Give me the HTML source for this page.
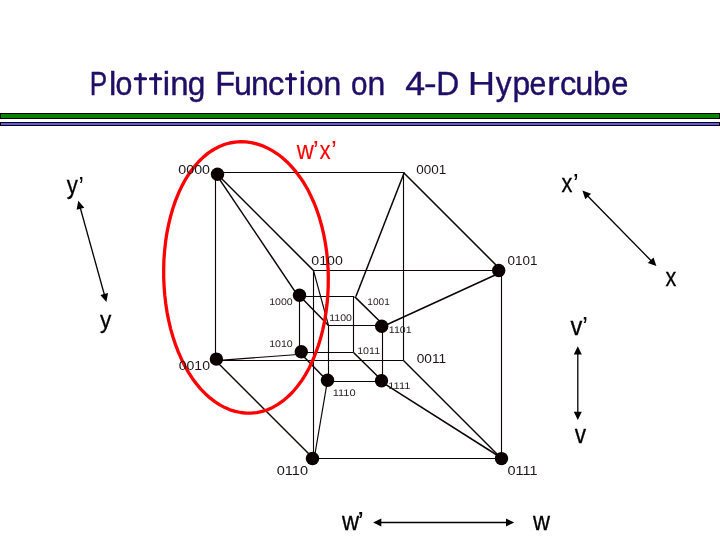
<!DOCTYPE html>
<html>
<head>
<meta charset="utf-8">
<title>Plotting Function on 4-D Hypercube</title>
<style>
html,body{margin:0;padding:0;background:#fff;}
body{width:720px;height:540px;overflow:hidden;position:relative;font-family:"Liberation Sans",sans-serif;}
svg{position:absolute;left:0;top:0;will-change:transform;}
.t{font-family:"Liberation Sans",sans-serif;}
.title{font-size:33px;fill:#200e66;stroke:#200e66;stroke-width:0.4px;}
.tt{fill:none;stroke:#200e66;stroke-width:3.0px;stroke-linecap:round;}
.big{font-size:13.4px;fill:#1c1616;}
.sm{font-size:9.6px;text-rendering:geometricPrecision;fill:#2a2424;}
.ax{font-size:26px;fill:#000;stroke:#000;stroke-width:0.3px;}
.red{font-size:26px;fill:#ff0000;stroke:#ff0000;stroke-width:0.12px;}
.ln line{stroke:#0c0404;stroke-width:1.12;stroke-linecap:butt;}
.dg line{stroke:#0c0404;stroke-width:1.5;stroke-linecap:butt;}
.th line{stroke:#0c0404;stroke-width:1.15;stroke-linecap:butt;}
.dot circle{fill:#0a0000;}
.arr line{stroke:#000;stroke-width:1.3;}
.arr polygon{fill:#000;}
</style>
</head>
<body>
<svg width="720" height="540" viewBox="0 0 720 540">
<!-- title -->
<g class="t title">
<text transform="translate(89.69,95) scale(0.792,1.03)">P</text>
<text transform="translate(108.88,95) scale(1.000,1.03)">l</text>
<text transform="translate(115.47,95) scale(0.919,1.03)">o</text>
<text transform="translate(162.78,95) scale(1.000,1.03)">i</text>
<text transform="translate(170.33,95) scale(1.000,1.03)">n</text>
<text transform="translate(187.72,95) scale(0.957,1.03)">g</text>
<text transform="translate(215.18,95) scale(0.984,1.03)">F</text>
<text transform="translate(234.08,95) scale(0.979,1.03)">u</text>
<text transform="translate(251.10,95) scale(0.971,1.03)">n</text>
<text transform="translate(267.98,95) scale(0.991,1.03)">c</text>
<text transform="translate(298.68,95) scale(1.000,1.03)">i</text>
<text transform="translate(306.56,95) scale(0.932,1.03)">o</text>
<text transform="translate(323.60,95) scale(0.971,1.03)">n</text>
<text transform="translate(350.90,95) scale(0.900,1.03)">o</text>
<text transform="translate(367.50,95) scale(0.971,1.03)">n</text>
<text transform="translate(405.20,95) scale(1.085,1.03)">4</text>
<text transform="translate(423.93,95) scale(1.150,1.03)">-</text>
<text transform="translate(436.23,95) scale(0.964,1.03)">D</text>
<text transform="translate(467.80,95) scale(1.150,1.03)" style="stroke-width:0.15px">H</text>
<text transform="translate(495.64,95) scale(0.959,1.03)">y</text>
<text transform="translate(512.41,95) scale(0.964,1.03)">p</text>
<text transform="translate(529.58,95) scale(0.916,1.03)">e</text>
<text transform="translate(547.12,95) scale(1.150,1.03)">r</text>
<text transform="translate(559.98,95) scale(0.991,1.03)">c</text>
<text transform="translate(575.36,95) scale(0.986,1.03)">u</text>
<text transform="translate(592.91,95) scale(0.964,1.03)">b</text>
<text transform="translate(611.25,95) scale(0.935,1.03)">e</text>
<path class="tt" d="M140.2,74.2 V93.6 M135.2,78.8 H145.6"/>
<path class="tt" d="M155.6,74.2 V93.6 M150.4,78.8 H160.8"/>
<path class="tt" d="M290.5,74.2 V93.6 M286.5,78.8 H295.5"/>
</g>
<!-- title rules -->
<rect x="0" y="113" width="720" height="6" fill="#000"/>
<rect x="1" y="114" width="718" height="4" fill="#068206"/>
<rect x="0" y="122" width="720" height="4" fill="#000"/>
<rect x="1" y="123" width="718" height="2" fill="#6659ea"/>

<!-- outer cube orthogonal lines -->
<g class="ln">
<line x1="215.5" y1="172.5" x2="403.5" y2="172.5"/>
<line x1="215.5" y1="172.5" x2="215.5" y2="360.5"/>
<line x1="403.5" y1="172.5" x2="403.5" y2="360.5"/>
<line x1="215.5" y1="360.5" x2="403.5" y2="360.5"/>
<line x1="313.5" y1="270.5" x2="501.5" y2="270.5"/>
<line x1="313.5" y1="270.5" x2="313.5" y2="458.5"/>
<line x1="501.5" y1="270.5" x2="501.5" y2="458.5"/>
<line x1="313.5" y1="458.5" x2="501.5" y2="458.5"/>
<!-- inner cube -->
<line x1="299.5" y1="296.5" x2="354" y2="296.5"/>
<line x1="299.5" y1="296.5" x2="299.5" y2="352.5"/>
<line x1="353.5" y1="296.5" x2="353.5" y2="352.5"/>
<line x1="299.5" y1="352.5" x2="353.5" y2="352.5"/>
<line x1="328.5" y1="325.5" x2="382" y2="325.5"/>
<line x1="328.5" y1="325.5" x2="328.5" y2="381"/>
<line x1="382.5" y1="325.5" x2="382.5" y2="381"/>
<line x1="328" y1="381.5" x2="382" y2="381.5"/>
</g>
<g class="dg">
<!-- outer diagonals -->
<line x1="215.5" y1="172.5" x2="313.5" y2="270.5"/>
<line x1="403.5" y1="172.5" x2="500.5" y2="269.5"/>
<line x1="215.5" y1="360.5" x2="313.5" y2="458.5"/>
<line x1="403.5" y1="360.5" x2="501.5" y2="458.5"/>
<!-- inner diagonals -->
<line x1="299.3" y1="295.4" x2="328.5" y2="325.5"/>
<line x1="354.6" y1="296.6" x2="381.5" y2="323"/>
<line x1="300.5" y1="353.2" x2="326.5" y2="380"/>
<line x1="353.5" y1="352.5" x2="381.7" y2="380.3"/>
<!-- outer-inner -->
<line x1="215.2" y1="172.8" x2="297.6" y2="295.4"/>
<line x1="404.3" y1="172.5" x2="355.9" y2="296.5"/>
<line x1="499" y1="273.2" x2="381.7" y2="327"/>
<line x1="501.5" y1="458" x2="381.5" y2="381.8"/>
</g>
<g class="th">
<line x1="216" y1="360.6" x2="301.3" y2="354.2"/>
<line x1="313.5" y1="270.5" x2="328.5" y2="325.5"/>
<line x1="314.2" y1="458.3" x2="327.5" y2="380.3"/>
</g>
<g class="dot">
<circle cx="217.5" cy="174.2" r="6.7"/>
<circle cx="498.7" cy="270.5" r="6.7"/>
<circle cx="216.4" cy="359.1" r="6.7"/>
<circle cx="312.5" cy="458.5" r="6.7"/>
<circle cx="501.5" cy="458.6" r="6.7"/>
<circle cx="299.5" cy="295.3" r="6.7"/>
<circle cx="301.3" cy="351.7" r="6.7"/>
<circle cx="381.7" cy="326.3" r="6.7"/>
<circle cx="327.5" cy="380.3" r="6.7"/>
<circle cx="381.5" cy="380.7" r="6.7"/>
</g>
<!-- red ellipse -->
<path d="M328.3,277.4 L328.2,286.3 L327.8,295.1 L327.0,303.9 L325.9,312.6 L324.5,321.2 L322.7,329.7 L320.6,337.9 L318.1,345.9 L315.3,353.6 L312.3,361.0 L308.9,368.1 L305.2,374.7 L301.2,380.9 L296.9,386.6 L292.5,391.8 L287.8,396.4 L282.9,400.5 L277.9,404.0 L272.7,407.0 L267.5,409.3 L262.2,411.0 L256.8,412.2 L251.4,412.7 L246.0,412.7 L240.6,412.1 L235.3,411.0 L230.0,409.4 L224.9,407.2 L219.8,404.5 L214.8,401.2 L210.0,397.5 L205.3,393.3 L200.8,388.7 L196.5,383.5 L192.4,378.0 L188.5,372.0 L184.9,365.6 L181.5,358.8 L178.4,351.7 L175.5,344.3 L173.0,336.6 L170.7,328.7 L168.8,320.5 L167.1,312.2 L165.8,303.6 L164.8,295.0 L164.1,286.2 L163.7,277.4 L163.7,268.5 L163.9,259.6 L164.6,250.8 L165.5,241.9 L166.8,233.2 L168.5,224.6 L170.5,216.2 L172.9,207.9 L175.6,200.0 L178.7,192.4 L182.1,185.2 L185.8,178.4 L189.9,172.1 L194.2,166.4 L198.8,161.1 L203.6,156.5 L208.5,152.5 L213.7,149.1 L218.9,146.3 L224.3,144.1 L229.7,142.6 L235.1,141.7 L240.6,141.3 L246.0,141.5 L251.4,142.2 L256.7,143.5 L262.0,145.2 L267.2,147.5 L272.2,150.2 L277.2,153.4 L282.1,157.1 L286.8,161.3 L291.3,165.9 L295.7,171.0 L299.8,176.5 L303.8,182.4 L307.5,188.7 L310.9,195.5 L314.1,202.6 L317.0,210.0 L319.5,217.7 L321.8,225.8 L323.7,234.0 L325.3,242.4 L326.6,251.0 L327.5,259.7 L328.1,268.5Z" transform="translate(0,0.4)" fill="none" stroke="#ff0000" stroke-width="3.3" stroke-linejoin="round"/>

<!-- vertex labels -->
<g class="t big">
<text x="178.3" y="174.2" textLength="31.75" lengthAdjust="spacingAndGlyphs">0000</text>
<text x="416.3" y="174.2" textLength="30.0" lengthAdjust="spacingAndGlyphs">0001</text>
<text x="311.3" y="265" textLength="31.54" lengthAdjust="spacingAndGlyphs">0100</text>
<text x="507.5" y="265" textLength="30.0" lengthAdjust="spacingAndGlyphs">0101</text>
<text x="178.7" y="370" textLength="31.34" lengthAdjust="spacingAndGlyphs">0010</text>
<text x="416.7" y="362.8" textLength="29.41" lengthAdjust="spacingAndGlyphs">0011</text>
<text x="276.7" y="475" textLength="31.37" lengthAdjust="spacingAndGlyphs">0110</text>
<text x="507.5" y="475" textLength="30.08" lengthAdjust="spacingAndGlyphs">0111</text>
</g>
<g class="t sm">
<text x="269.16" y="304.85" textLength="23.56" lengthAdjust="spacingAndGlyphs">1000</text>
<text x="367.26" y="304.85" textLength="22.53" lengthAdjust="spacingAndGlyphs">1001</text>
<text x="269.16" y="346.6" textLength="23.56" lengthAdjust="spacingAndGlyphs">1010</text>
<text x="357.2" y="353.9" textLength="22.93" lengthAdjust="spacingAndGlyphs">1011</text>
<text x="329.16" y="320.7" textLength="22.77" lengthAdjust="spacingAndGlyphs">1100</text>
<text x="388.8" y="333.1" textLength="22.82" lengthAdjust="spacingAndGlyphs">1101</text>
<text x="332.7" y="395.9" textLength="22.98" lengthAdjust="spacingAndGlyphs">1110</text>
<text x="388.3" y="389.1" textLength="22.1" lengthAdjust="spacingAndGlyphs">1111</text>
</g>

<!-- axis labels -->
<g class="t ax">
<text transform="translate(66.79,194.47) scale(0.855,0.973)">y</text>
<text transform="translate(78.38,195.03) scale(0.926,1.009)" style="stroke:none">’</text>
<text transform="translate(99.89,328.21) scale(0.871,0.946)">y</text>
<text transform="translate(561.58,191.9) scale(0.841,1.004)">x</text>
<text transform="translate(572.86,191.81) scale(1.053,0.974)" style="stroke:none">’</text>
<text transform="translate(665.59,285.9) scale(0.833,0.996)">x</text>
<text transform="translate(570.59,334.9) scale(0.91,1.004)">v</text>
<text transform="translate(581.96,334.81) scale(1.053,0.974)" style="stroke:none">’</text>
<text transform="translate(574.79,442.5) scale(0.871,0.989)">v</text>
<text transform="translate(341.9,530.0) scale(0.911,1.011)">w</text>
<text transform="translate(357.34,530.03) scale(1.179,1.009)" style="stroke:none">’</text>
<text transform="translate(533.1,530.0) scale(0.906,1.011)">w</text>
</g>
<g class="t red">
<text transform="translate(296.7,158.9) scale(0.911,1.011)">w</text>
<text transform="translate(312.86,158.51) scale(1.053,0.974)" style="stroke:none">’</text>
<text transform="translate(319.48,158.9) scale(0.857,1.011)">x</text>
<text transform="translate(331.03,158.51) scale(1.011,0.974)" style="stroke:none">’</text>
</g>

<!-- arrows -->
<g class="arr">
<line x1="80.23" y1="207.74" x2="104.47" y2="294.96"/>
<polygon points="78.30,200.80 76.64,209.77 84.35,207.63"/>
<polygon points="106.40,301.90 100.35,295.07 108.06,292.93"/>
<line x1="587.44" y1="195.74" x2="651.36" y2="260.96"/>
<polygon points="582.40,190.60 585.28,199.26 591.00,193.66"/>
<polygon points="656.40,266.10 647.80,263.04 653.52,257.44"/>
<line x1="577.80" y1="353.50" x2="577.80" y2="412.80"/>
<polygon points="577.80,346.30 573.80,354.50 581.80,354.50"/>
<polygon points="577.80,420.00 573.80,411.80 581.80,411.80"/>
<line x1="380.30" y1="522.50" x2="507.00" y2="522.50"/>
<polygon points="373.10,522.50 381.30,526.50 381.30,518.50"/>
<polygon points="514.20,522.50 506.00,526.50 506.00,518.50"/>
</g>
</svg>
</body>
</html>
